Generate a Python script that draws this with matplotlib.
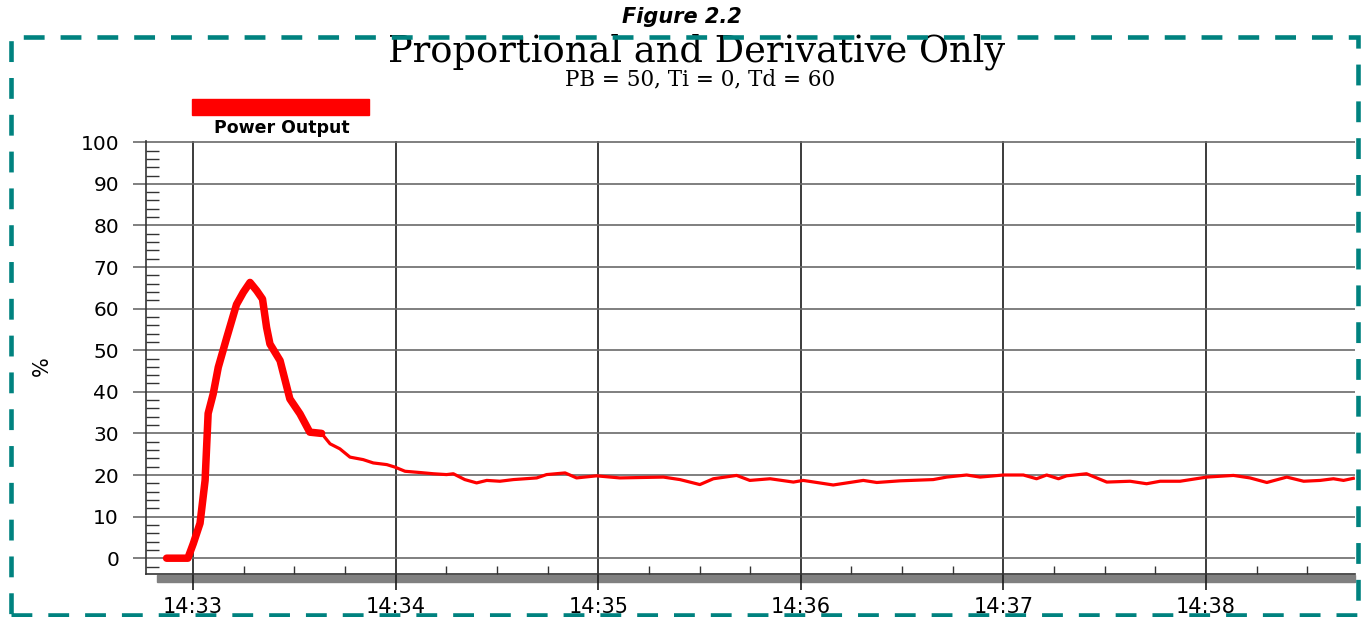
import matplotlib.pyplot as plt
from matplotlib.patches import Rectangle
from matplotlib.ticker import MultipleLocator

plt.rcParams['lines.scale_dashes'] = False

# seconds after 14:33:00, power output in %
t = [-7.8, -1.5, 0.1, 2.1, 3.6, 4.5, 6.0, 7.5, 10.0, 12.9, 14.9, 16.9, 18.9, 20.6,
     21.8, 22.8, 25.8, 28.7, 31.7, 34.6, 38.1, 40.6, 43.5, 46.5, 50.4, 53.4, 57.4,
     59.8, 62.8, 67.2, 71.2, 75.1, 77.1, 80.5, 84.0, 87.0, 90.9, 94.9, 101.8, 104.7,
     110.2, 113.6, 119.5, 126.4, 139.3, 144.2, 150.1, 154.1, 161.0, 164.9, 170.9,
     177.8, 180.7, 189.6, 198.5, 202.5, 209.4, 219.2, 223.2, 229.1, 233.1, 240.0,
     245.9, 249.8, 252.8, 256.3, 258.7, 264.6, 270.6, 277.5, 282.4, 286.4, 292.3,
     300.2, 308.1, 313.0, 318.0, 323.9, 328.9, 333.8, 337.7, 340.7, 343.6]
power = [0, 0, 3.5, 8.4, 18.7, 34.8, 39.5, 45.9, 53.0, 61.0, 63.9, 66.3, 64.3, 62.3,
         55.5, 51.5, 47.5, 38.3, 34.7, 30.3, 30.0, 27.5, 26.3, 24.3, 23.7, 22.9, 22.5,
         21.9, 20.9, 20.6, 20.3, 20.1, 20.3, 18.9, 18.1, 18.7, 18.5, 18.9, 19.3, 20.1,
         20.5, 19.3, 19.8, 19.3, 19.5, 18.9, 17.7, 19.1, 19.9, 18.7, 19.1,
         18.3, 18.7, 17.6, 18.7, 18.2, 18.6, 18.9, 19.5, 20.0, 19.5, 20.0,
         20.0, 19.1, 20.0, 19.1, 19.8, 20.3, 18.3, 18.5, 17.9, 18.5, 18.5,
         19.5, 19.9, 19.3, 18.2, 19.5, 18.5, 18.7, 19.1, 18.7, 19.2]
thick_end = 20  # the trace is drawn heavy up to ~14:33:38

tick_pos = [0, 60, 120, 180, 240, 300]
tick_labels = ['14:33', '14:34', '14:35', '14:36', '14:37', '14:38']

W, H = 1362, 617
fig = plt.figure(figsize=(W / 100, H / 100), dpi=100)
fig.patch.set_facecolor('white')

ax = fig.add_axes([146 / W, 1 - 574 / H, (1355 - 146) / W, (574 - 141) / H])
ax.plot(t[:thick_end + 1], power[:thick_end + 1], color='#ff0000', lw=5.4,
        solid_joinstyle='round', solid_capstyle='round', zorder=3)
ax.plot(t[thick_end - 1:], power[thick_end - 1:], color='#ff0000', lw=2.3,
        solid_joinstyle='round', zorder=3)

ax.set_xlim(-13.9, 344.1)
ax.set_ylim(-3.8, 100.3)
ax.set_xticks(tick_pos)
ax.set_xticklabels(tick_labels)
ax.set_yticks(range(0, 101, 10))
ax.xaxis.set_minor_locator(MultipleLocator(15))
ax.yaxis.set_minor_locator(MultipleLocator(2))

ax.grid(axis='y', which='major', color='#6a6a6a', lw=1.2, zorder=1)
ax.grid(axis='x', which='major', color='#1a1a1a', lw=1.2, zorder=1)
ax.tick_params(axis='y', which='major', direction='out', length=9.4, width=1.2,
               color='#6a6a6a', pad=10, labelsize=14.5)
ax.tick_params(axis='y', which='minor', direction='in', length=9.4, width=1.0,
               color='#333333')
ax.tick_params(axis='x', which='major', direction='out', length=11.5, width=1.2,
               color='#1a1a1a', pad=5, labelsize=15)
ax.tick_params(axis='x', which='minor', direction='in', length=6, width=1.0,
               color='#333333')
for lab in ax.get_xticklabels() + ax.get_yticklabels():
    lab.set_fontfamily('DejaVu Sans')

for s in ['top', 'right']:
    ax.spines[s].set_visible(False)
for s in ['left', 'bottom']:
    ax.spines[s].set_color('#333333')
    ax.spines[s].set_linewidth(1.2)

ax.set_ylabel('%', fontsize=15, fontfamily='DejaVu Sans')
ax.yaxis.set_label_coords(-0.078, 0.48)

# grey bar under the time axis
fig.patches.append(Rectangle((157 / W, 1 - 582 / H), (1355 - 157) / W, 7 / H,
                             transform=fig.transFigure, color='#808080', zorder=-1))

# legend swatch
fig.patches.append(Rectangle((192 / W, 1 - 115 / H), (369 - 192) / W, 16 / H,
                             transform=fig.transFigure, color='#ff0000', zorder=2))
fig.text(282 / W, 1 - 128 / H, 'Power Output', ha='center', va='center',
         fontsize=12.5, fontweight='bold', fontfamily='DejaVu Sans')

fig.text(682 / W, 1 - 17 / H, 'Figure 2.2', ha='center', va='center', fontsize=15,
         fontweight='bold', fontstyle='italic', fontfamily='DejaVu Sans')
fig.text(697 / W, 1 - 61 / H, 'Proportional and Derivative Only', ha='center',
         va='baseline', fontsize=26.5, fontfamily='DejaVu Serif')
fig.text(700 / W, 1 - 85 / H, 'PB = 50, Ti = 0, Td = 60', ha='center', va='baseline',
         fontsize=15.5, fontfamily='DejaVu Serif')

# dashed frame
fig.patches.append(Rectangle((11 / W, 1 - 615 / H), (1358 - 11) / W, (615 - 37) / H,
                             transform=fig.transFigure, fill=False, edgecolor='#00827f',
                             lw=3.3, linestyle=(0, (15, 11.5)), zorder=5))

fig.savefig('out.png', dpi=100, facecolor='white')
